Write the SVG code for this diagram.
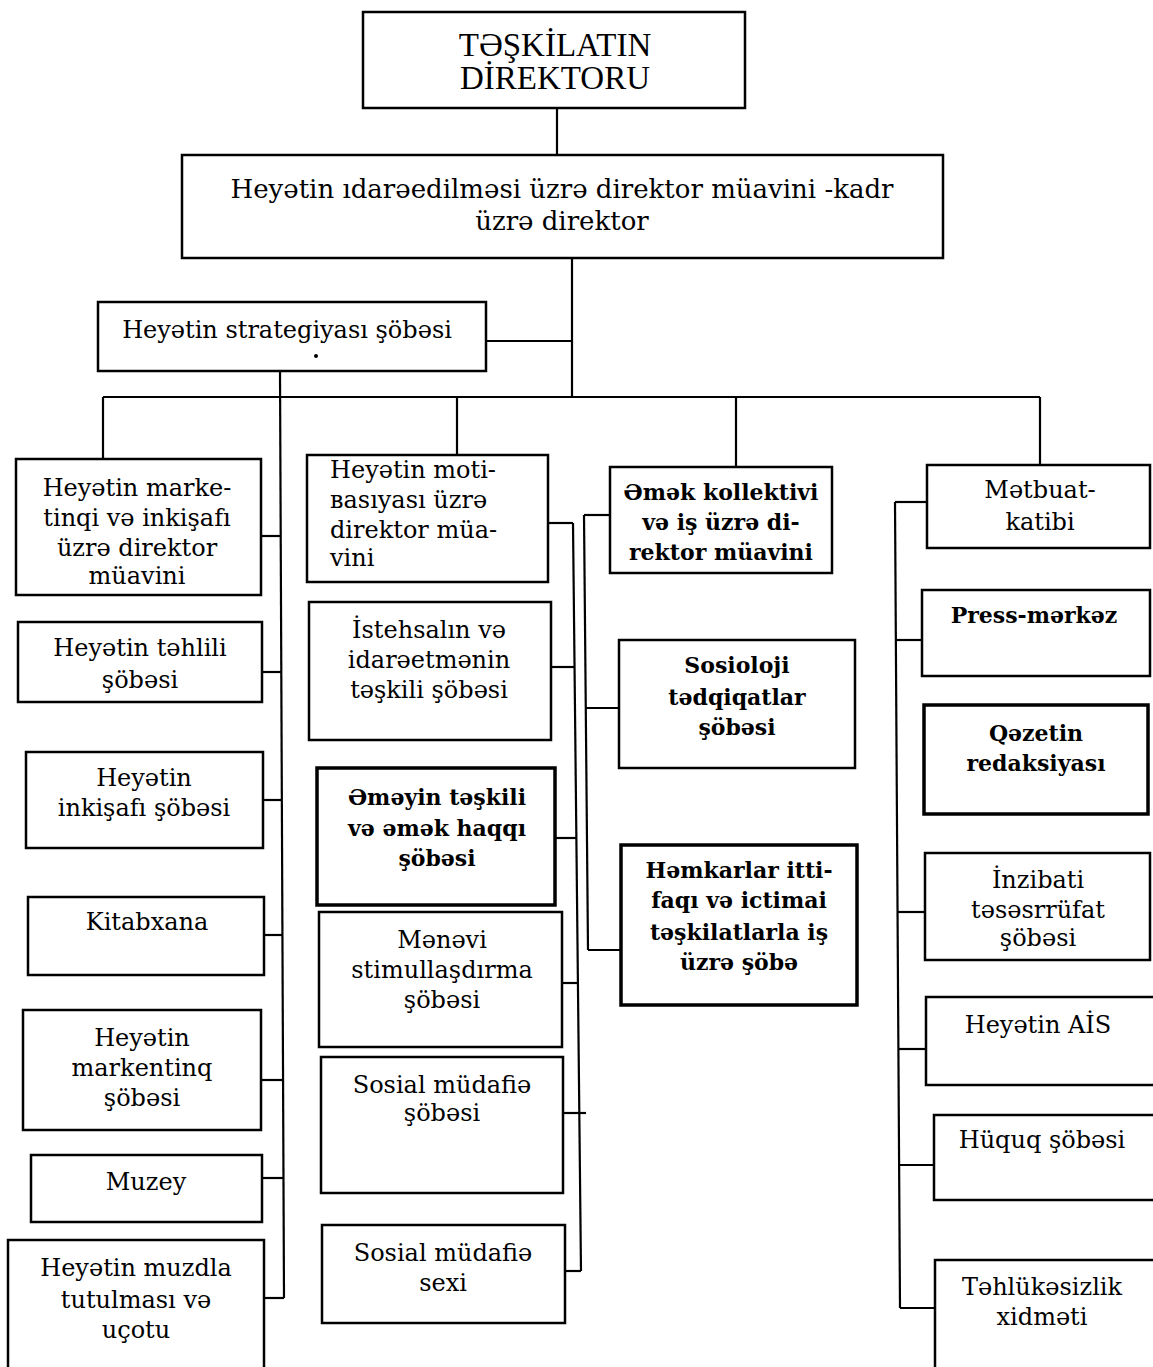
<svg xmlns="http://www.w3.org/2000/svg" width="1153" height="1367" viewBox="0 0 1153 1367">
<style>
  .box { fill: #fff; stroke: #000; stroke-width: 2.5; }
  .thick { stroke-width: 3.5; }
  .t { font-family: "DejaVu Serif", "Liberation Serif", serif; font-size: 24px; fill: #000; text-anchor: middle; }
  .l { text-anchor: start; }
  .b { font-weight: bold; font-size: 22px; }
  .cap { font-family: "Liberation Serif", "DejaVu Serif", serif; font-size: 33px; }
  .big { font-size: 26px; }
  .conn line { stroke: #000; stroke-width: 2.2; }
</style>
<rect width="1153" height="1367" fill="#fff"/>
<g class="conn" id="connectors">
  <line x1="557" y1="108" x2="557" y2="155"/>
  <line x1="572" y1="258" x2="572" y2="397"/>
  <line x1="486" y1="341" x2="572" y2="341"/>
  <line x1="103" y1="397" x2="1040" y2="397"/>
  <line x1="103" y1="397" x2="103" y2="459"/>
  <line x1="457" y1="397" x2="457" y2="455"/>
  <line x1="736" y1="397" x2="736" y2="467"/>
  <line x1="1040" y1="397" x2="1040" y2="465"/>
  <line x1="280" y1="371" x2="284" y2="1298"/>
  <line x1="261" y1="536" x2="281" y2="536"/>
  <line x1="262" y1="672" x2="281" y2="672"/>
  <line x1="263" y1="800" x2="282" y2="800"/>
  <line x1="264" y1="935" x2="282" y2="935"/>
  <line x1="261" y1="1080" x2="283" y2="1080"/>
  <line x1="262" y1="1178" x2="283" y2="1178"/>
  <line x1="264" y1="1298" x2="284" y2="1298"/>
  <line x1="548" y1="523" x2="573" y2="523"/>
  <line x1="573" y1="523" x2="581" y2="1271"/>
  <line x1="551" y1="667" x2="575" y2="667"/>
  <line x1="555" y1="838" x2="577" y2="838"/>
  <line x1="562" y1="983" x2="578" y2="983"/>
  <line x1="563" y1="1113" x2="586" y2="1113"/>
  <line x1="565" y1="1271" x2="581" y2="1271"/>
  <line x1="584" y1="515" x2="588" y2="950"/>
  <line x1="584" y1="515" x2="610" y2="515"/>
  <line x1="585" y1="708" x2="619" y2="708"/>
  <line x1="588" y1="950" x2="621" y2="950"/>
  <line x1="895" y1="502" x2="900" y2="1308"/>
  <line x1="895" y1="502" x2="927" y2="502"/>
  <line x1="896" y1="640" x2="922" y2="640"/>
  <line x1="897" y1="912" x2="925" y2="912"/>
  <line x1="898" y1="1049" x2="926" y2="1049"/>
  <line x1="899" y1="1165" x2="934" y2="1165"/>
  <line x1="900" y1="1308" x2="935" y2="1308"/>
</g>
<g id="director">
  <rect class="box" x="363" y="12" width="382" height="96"/>
  <text class="t cap" x="555" y="56">TƏŞKİLATIN</text>
  <text class="t cap" x="555" y="89">DİREKTORU</text>
</g>
<g id="deputy-hr">
  <rect class="box" x="182" y="155" width="761" height="103"/>
  <text class="t big" x="562" y="198">Heyətin ıdarəedilməsi üzrə direktor müavini -kadr</text>
  <text class="t big" x="562" y="230">üzrə direktor</text>
</g>
<g id="strategy">
  <rect class="box" x="98" y="302" width="388" height="69"/>
  <text class="t" x="287" y="338">Heyətin strategiyası şöbəsi</text>
  <circle cx="316" cy="356" r="2" fill="#000"/>
</g>
<g id="l1">
  <rect class="box" x="16" y="459" width="245" height="136"/>
  <text class="t" x="137" y="496">Heyətin marke-</text>
  <text class="t" x="137" y="526">tinqi və inkişafı</text>
  <text class="t" x="137" y="556">üzrə direktor</text>
  <text class="t" x="137" y="584">müavini</text>
</g>
<g id="l2">
  <rect class="box" x="18" y="622" width="244" height="80"/>
  <text class="t" x="140" y="656">Heyətin təhlili</text>
  <text class="t" x="140" y="688">şöbəsi</text>
</g>
<g id="l3">
  <rect class="box" x="26" y="752" width="237" height="96"/>
  <text class="t" x="144" y="786">Heyətin</text>
  <text class="t" x="144" y="816">inkişafı şöbəsi</text>
</g>
<g id="l4">
  <rect class="box" x="28" y="897" width="236" height="78"/>
  <text class="t" x="147" y="930">Kitabxana</text>
</g>
<g id="l5">
  <rect class="box" x="23" y="1010" width="238" height="120"/>
  <text class="t" x="142" y="1046">Heyətin</text>
  <text class="t" x="142" y="1076">markentinq</text>
  <text class="t" x="142" y="1106">şöbəsi</text>
</g>
<g id="l6">
  <rect class="box" x="31" y="1155" width="231" height="67"/>
  <text class="t" x="146" y="1190">Muzey</text>
</g>
<g id="l7">
  <rect class="box" x="8" y="1240" width="256" height="140"/>
  <text class="t" x="136" y="1276">Heyətin muzdla</text>
  <text class="t" x="136" y="1308">tutulması və</text>
  <text class="t" x="136" y="1338">uçotu</text>
</g>
<g id="m1">
  <rect class="box" x="307" y="455" width="241" height="127"/>
  <text class="t l" x="330" y="478">Heyətin moti-</text>
  <text class="t l" x="330" y="508">вasıyası üzrə</text>
  <text class="t l" x="330" y="538">direktor müa-</text>
  <text class="t l" x="330" y="566">vini</text>
</g>
<g id="m2">
  <rect class="box" x="309" y="602" width="242" height="138"/>
  <text class="t" x="429" y="638">İstehsalın və</text>
  <text class="t" x="429" y="668">idarəetmənin</text>
  <text class="t" x="429" y="698">təşkili şöbəsi</text>
</g>
<g id="m3">
  <rect class="box thick" x="317" y="768" width="238" height="137"/>
  <text class="t b" x="437" y="805">Əməyin təşkili</text>
  <text class="t b" x="437" y="836">və əmək haqqı</text>
  <text class="t b" x="437" y="866">şöbəsi</text>
</g>
<g id="m4">
  <rect class="box" x="319" y="912" width="243" height="135"/>
  <text class="t" x="442" y="948">Mənəvi</text>
  <text class="t" x="442" y="978">stimullaşdırma</text>
  <text class="t" x="442" y="1008">şöbəsi</text>
</g>
<g id="m5">
  <rect class="box" x="321" y="1057" width="242" height="136"/>
  <text class="t" x="442" y="1093">Sosial müdafiə</text>
  <text class="t" x="442" y="1121">şöbəsi</text>
</g>
<g id="m6">
  <rect class="box" x="322" y="1225" width="243" height="98"/>
  <text class="t" x="443" y="1261">Sosial müdafiə</text>
  <text class="t" x="443" y="1291">sexi</text>
</g>
<g id="r1">
  <rect class="box" x="610" y="467" width="222" height="106"/>
  <text class="t b" x="721" y="500">Əmək kollektivi</text>
  <text class="t b" x="721" y="530">və iş üzrə di-</text>
  <text class="t b" x="721" y="560">rektor müavini</text>
</g>
<g id="r2">
  <rect class="box" x="619" y="640" width="236" height="128"/>
  <text class="t b" x="737" y="673">Sosioloji</text>
  <text class="t b" x="737" y="705">tədqiqatlar</text>
  <text class="t b" x="737" y="735">şöbəsi</text>
</g>
<g id="r3">
  <rect class="box thick" x="621" y="845" width="236" height="160"/>
  <text class="t b" x="739" y="878">Həmkarlar itti-</text>
  <text class="t b" x="739" y="908">faqı və ictimai</text>
  <text class="t b" x="739" y="940">təşkilatlarla iş</text>
  <text class="t b" x="739" y="970">üzrə şöbə</text>
</g>
<g id="f1">
  <rect class="box" x="927" y="465" width="223" height="83"/>
  <text class="t" x="1040" y="498">Mətbuat-</text>
  <text class="t" x="1040" y="530">katibi</text>
</g>
<g id="f2">
  <rect class="box" x="922" y="590" width="228" height="86"/>
  <text class="t b" x="1034" y="623">Press-mərkəz</text>
</g>
<g id="f3">
  <rect class="box thick" x="924" y="705" width="224" height="109"/>
  <text class="t b" x="1036" y="741">Qəzetin</text>
  <text class="t b" x="1036" y="771">redaksiyası</text>
</g>
<g id="f4">
  <rect class="box" x="925" y="853" width="225" height="107"/>
  <text class="t" x="1038" y="888">İnzibati</text>
  <text class="t" x="1038" y="918">təsəsrrüfat</text>
  <text class="t" x="1038" y="946">şöbəsi</text>
</g>
<g id="f5">
  <rect class="box" x="926" y="997" width="230" height="88"/>
  <text class="t" x="1038" y="1033">Heyətin AİS</text>
</g>
<g id="f6">
  <rect class="box" x="934" y="1115" width="222" height="85"/>
  <text class="t" x="1042" y="1148">Hüquq şöbəsi</text>
</g>
<g id="f7">
  <rect class="box" x="935" y="1260" width="221" height="120"/>
  <text class="t" x="1042" y="1295">Təhlükəsizlik</text>
  <text class="t" x="1042" y="1325">xidməti</text>
</g>
</svg>
